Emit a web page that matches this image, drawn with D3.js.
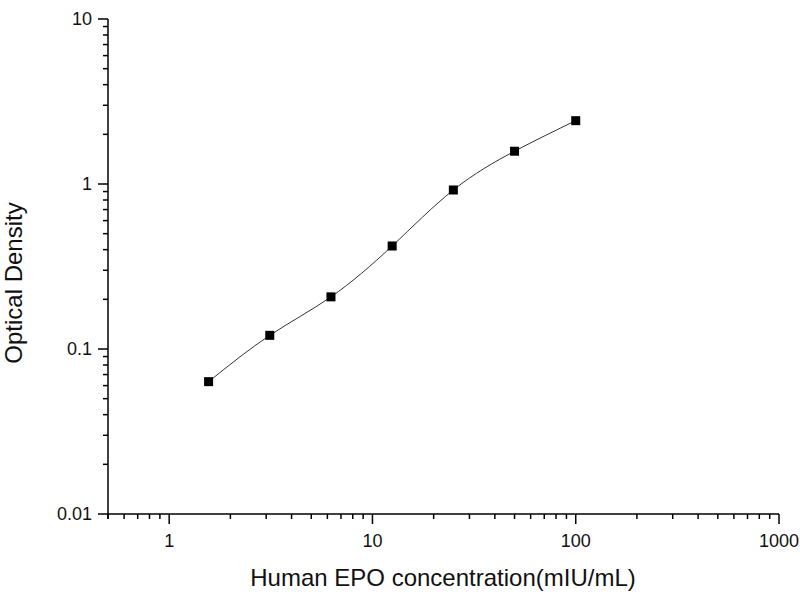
<!DOCTYPE html>
<html>
<head>
<meta charset="utf-8">
<script src="https://cdn.jsdelivr.net/npm/d3@7"></script>
<style>
    body { margin: 0; background: #fff; }
    svg { display: block; font-family: "Liberation Sans", Arial, sans-serif; }
    .tick-label { font-size: 18px; fill: #111; }
    .axis-title { font-size: 24px; fill: #111; }
</style>
</head>
<body>
<svg id="chart" width="800" height="600"></svg>
<script>
// Standard curve data
const concentrations = [1.5625, 3.125, 6.25, 12.5, 25, 50, 100];
const densities = [0.0634, 0.121, 0.207, 0.421, 0.92, 1.58, 2.42];

const xTickValues = [1, 10, 100, 1000];
const xTickLabels = ["1", "10", "100", "1000"];
const yTickValues = [0.01, 0.1, 1, 10];
const yTickLabels = ["0.01", "0.1", "1", "10"];

const xTitle = "Human EPO concentration(mIU/mL)";
const yTitle = "Optical Density";

const svg = d3.select("#chart");

const xScale = d3.scaleLog().domain([0.5, 1000]).range([108, 779]);
const yScale = d3.scaleLog().domain([0.01, 10]).range([514, 19]);

// minor ticks on each decade
const minorTicks = (domain) => {
    const out = [];
    const lo = Math.floor(Math.log10(domain[0]));
    const hi = Math.ceil(Math.log10(domain[1]));
    for (let p = lo; p < hi; p++) {
        for (let m = 2; m <= 9; m++) {
            const v = m * Math.pow(10, p);
            if (v >= domain[0] && v <= domain[1]) out.push(v);
        }
    }
    return out;
};

const [x0, x1] = xScale.range();
const [y0, y1] = yScale.range();

// X axis
const xAxis = svg.append("g").attr("stroke", "#000").attr("stroke-width", 1.5);
xAxis.append("line")
    .attr("x1", x0).attr("x2", x1)
    .attr("y1", y0).attr("y2", y0);
xAxis.selectAll(".x-major")
    .data(xTickValues)
    .enter().append("line")
    .attr("x1", (d) => xScale(d)).attr("x2", (d) => xScale(d))
    .attr("y1", y0).attr("y2", y0 + 10);
xAxis.selectAll(".x-minor")
    .data(minorTicks(xScale.domain()))
    .enter().append("line")
    .attr("x1", (d) => xScale(d)).attr("x2", (d) => xScale(d))
    .attr("y1", y0).attr("y2", y0 + 5);
// tick at the start of the axis
xAxis.append("line")
    .attr("x1", x0).attr("x2", x0)
    .attr("y1", y0).attr("y2", y0 + 5);

svg.selectAll(".x-label")
    .data(xTickValues)
    .enter().append("text")
    .classed("tick-label", true)
    .attr("x", (d) => xScale(d))
    .attr("y", 547)
    .attr("text-anchor", "middle")
    .text((d, i) => xTickLabels[i]);

// Y axis
const yAxis = svg.append("g").attr("stroke", "#000").attr("stroke-width", 1.5);
yAxis.append("line")
    .attr("x1", x0).attr("x2", x0)
    .attr("y1", y0).attr("y2", y1);
yAxis.selectAll(".y-major")
    .data(yTickValues)
    .enter().append("line")
    .attr("x1", x0 - 10).attr("x2", x0)
    .attr("y1", (d) => yScale(d)).attr("y2", (d) => yScale(d));
yAxis.selectAll(".y-minor")
    .data(minorTicks(yScale.domain()))
    .enter().append("line")
    .attr("x1", x0 - 5).attr("x2", x0)
    .attr("y1", (d) => yScale(d)).attr("y2", (d) => yScale(d));

svg.selectAll(".y-label")
    .data(yTickValues)
    .enter().append("text")
    .classed("tick-label", true)
    .attr("x", 92)
    .attr("y", (d) => yScale(d) + 6)
    .attr("text-anchor", "end")
    .text((d, i) => yTickLabels[i]);

// Titles
svg.append("text")
    .classed("axis-title", true)
    .attr("x", 443)
    .attr("y", 586)
    .attr("text-anchor", "middle")
    .text(xTitle);

svg.append("text")
    .classed("axis-title", true)
    .attr("transform", "translate(22 283) rotate(-90)")
    .attr("text-anchor", "middle")
    .text(yTitle);

// Fitted curve and points
const points = concentrations.map((c, i) => ({ x: c, y: densities[i] }));

const line = d3.line()
    .x((d) => xScale(d.x))
    .y((d) => yScale(d.y))
    .curve(d3.curveNatural);

svg.append("path")
    .datum(points)
    .attr("d", line)
    .attr("fill", "none")
    .attr("stroke", "#333")
    .attr("stroke-width", 1);

const markerSize = 9;
svg.selectAll(".marker")
    .data(points)
    .enter().append("rect")
    .classed("marker", true)
    .attr("x", (d) => xScale(d.x) - markerSize / 2)
    .attr("y", (d) => yScale(d.y) - markerSize / 2)
    .attr("width", markerSize)
    .attr("height", markerSize)
    .attr("fill", "#000");
</script>
</body>
</html>
